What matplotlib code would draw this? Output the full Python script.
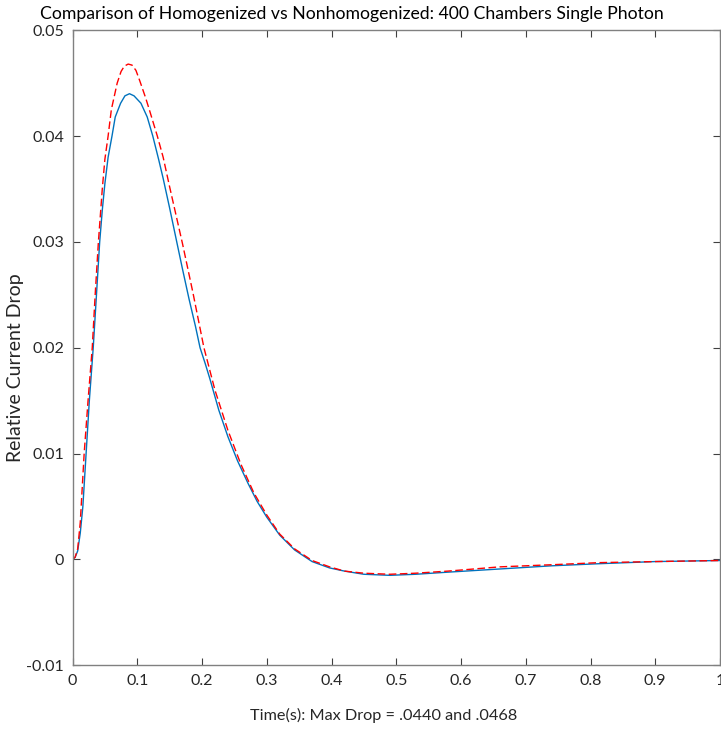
import matplotlib
matplotlib.use("Agg")
import matplotlib.pyplot as plt

# Data
t_homog = [0.000, 0.004, 0.008, 0.012, 0.016, 0.021, 0.026, 0.032, 0.037, 0.042,
           0.046, 0.050, 0.055, 0.061, 0.066, 0.0743, 0.081, 0.088, 0.095, 0.1057,
           0.1154, 0.124, 0.133, 0.140, 0.150, 0.161, 0.170, 0.180, 0.190, 0.197,
           0.205, 0.212, 0.226, 0.240, 0.255, 0.271, 0.285, 0.300, 0.320, 0.343,
           0.370, 0.397, 0.420, 0.450, 0.490, 0.530, 0.580, 0.660, 0.740, 0.814,
           0.900, 1.000]
homog = [0.0000, 0.0002, 0.0008, 0.0025, 0.0050, 0.0100, 0.0150, 0.0200, 0.0250, 0.0300,
         0.0330, 0.0355, 0.0380, 0.0400, 0.0418, 0.0431, 0.0438, 0.0440, 0.0438, 0.0431,
         0.0418, 0.0400, 0.0378, 0.0360, 0.0332, 0.0300, 0.0274, 0.0246, 0.0220, 0.0200,
         0.0185, 0.0171, 0.0141, 0.0116, 0.0093, 0.0072, 0.0055, 0.0040, 0.0023, 0.0009,
         -0.0002, -0.0008, -0.0011, -0.0014, -0.0015, -0.0014, -0.0012, -0.0009, -0.0006, -0.0004,
         -0.0002, -0.0001]

t_nonhomog = [0.000, 0.004, 0.008, 0.012, 0.018, 0.024, 0.0305, 0.035, 0.040, 0.046,
              0.050, 0.055, 0.060, 0.069, 0.075, 0.080, 0.086, 0.092, 0.098, 0.104,
              0.113, 0.1196, 0.131, 0.140, 0.150, 0.160, 0.170, 0.186, 0.203, 0.220,
              0.240, 0.260, 0.280, 0.300, 0.320, 0.343, 0.370, 0.397, 0.420, 0.450,
              0.490, 0.530, 0.580, 0.660, 0.740, 0.814, 0.900, 1.000]
nonhomog = [0.0000, 0.0002, 0.0010, 0.0035, 0.0100, 0.0150, 0.0200, 0.0250, 0.0300, 0.0350,
            0.0378, 0.0400, 0.0425, 0.0450, 0.0461, 0.0466, 0.0468, 0.0467, 0.0462, 0.0452,
            0.0436, 0.0423, 0.0400, 0.0380, 0.0352, 0.0325, 0.0298, 0.0252, 0.0200, 0.0160,
            0.0122, 0.0090, 0.0063, 0.0042, 0.0024, 0.0010, -0.0001, -0.0007, -0.0011, -0.0013,
            -0.0014, -0.0013, -0.0011, -0.0007, -0.0005, -0.0003, -0.0002, -0.0001]

xticks = [0, 0.1, 0.2, 0.3, 0.4, 0.5, 0.6, 0.7, 0.8, 0.9, 1]
xticklabels = ["0", "0.1", "0.2", "0.3", "0.4", "0.5", "0.6", "0.7", "0.8", "0.9", "1"]
yticks = [-0.01, 0, 0.01, 0.02, 0.03, 0.04, 0.05]
yticklabels = ["-0.01", "0", "0.01", "0.02", "0.03", "0.04", "0.05"]

title = "Comparison of Homogenized vs Nonhomogenized: 400 Chambers Single Photon"
xlabel = "Time(s): Max Drop = .0440 and .0468"
ylabel = "Relative Current Drop"

plt.rcParams['font.family'] = ['Lato', 'DejaVu Sans']

W, H = 721, 729
fig = plt.figure(figsize=(W / 100, H / 100), dpi=100)
ax = fig.add_axes([72.5 / W, 1 - 665.3 / H, (720 - 72.5) / W, (665.3 - 30.2) / H])

ax.plot(t_homog, homog, color='#0072BD', lw=1.0)
ax.plot(t_nonhomog, nonhomog, color='#FF0000', lw=1.0, ls=(0, (5.5, 2.5)))

ax.set_xlim(0, 1)
ax.set_ylim(-0.01, 0.05)
ax.set_xticks(xticks)
ax.set_xticklabels(xticklabels)
ax.set_yticks(yticks)
ax.set_yticklabels(yticklabels)
ax.tick_params(direction='in', length=5, width=0.8, colors='#404040',
               labelsize=11.5, top=True, right=True, pad=6, labelcolor='#262626')
for s in ax.spines.values():
    s.set_color('#808080')
    s.set_linewidth(1.0)

fig.text(352 / W, 1 - 14 / H, title, ha='center', va='center', fontsize=12.7, color='#000000')
fig.text(384 / W, 1 - 715 / H, xlabel, ha='center', va='center', fontsize=11.7, color='#262626')
fig.text(16 / W, 1 - 368 / H, ylabel, ha='center', va='center', rotation=90, fontsize=14, color='#262626')

fig.savefig('out.png', dpi=100)
